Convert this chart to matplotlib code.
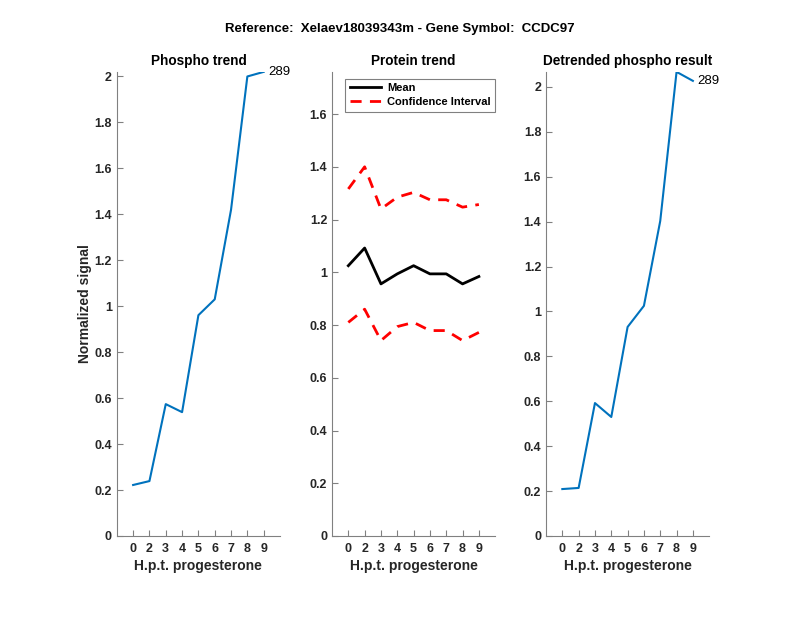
import matplotlib
matplotlib.use("Agg")
import matplotlib.pyplot as plt
from matplotlib.ticker import FuncFormatter

plt.rcParams['font.family'] = ['Liberation Sans', 'DejaVu Sans']

tick_labels = ['0', '2', '3', '4', '5', '6', '7', '8', '9']
phospho = [0.222, 0.239, 0.574, 0.539, 0.961, 1.03, 1.42, 2.0, 2.02]
protein_mean = [1.025, 1.092, 0.956, 0.994, 1.025, 0.994, 0.994, 0.956, 0.984]
protein_upper = [1.316, 1.40, 1.24, 1.285, 1.303, 1.275, 1.275, 1.247, 1.257]
protein_lower = [0.81, 0.86, 0.741, 0.794, 0.81, 0.779, 0.779, 0.741, 0.772]
detrended = [0.209, 0.214, 0.592, 0.530, 0.931, 1.025, 1.403, 2.067, 2.027]
peptide_label = '289'

xs = list(range(1, len(tick_labels) + 1))
blue = '#0072BD'
grey = '#808080'

fig = plt.figure(figsize=(8, 6.18), dpi=100)
fig.suptitle('Reference:  Xelaev18039343m - Gene Symbol:  CCDC97',
             fontsize=9.5, fontweight='bold', y=0.962)

lefts = [0.146, 0.415, 0.6825]
w, b, h = 0.204, 0.1327, 0.751
fmt = FuncFormatter(lambda v, p: '%g' % round(v, 2))


def style(ax, ymax, yticks):
    ax.set_xlim(0, 10)
    ax.set_ylim(0, ymax)
    ax.set_xticks(xs)
    ax.set_xticklabels(tick_labels)
    ax.set_yticks(yticks)
    ax.yaxis.set_major_formatter(fmt)
    for s in ['top', 'right']:
        ax.spines[s].set_visible(False)
    for s in ['left', 'bottom']:
        ax.spines[s].set_color(grey)
        ax.spines[s].set_linewidth(0.8)
    ax.tick_params(direction='in', length=4, color=grey, labelsize=9,
                   labelcolor='#262626')
    ax.tick_params(axis='x', pad=5)
    ax.tick_params(axis='y', pad=3.5)
    for lab in ax.get_xticklabels() + ax.get_yticklabels():
        lab.set_fontweight('bold')
    ax.set_xlabel('H.p.t. progesterone', fontsize=10, fontweight='bold',
                  color='#262626', labelpad=3)


ax1 = fig.add_axes([lefts[0], b, w, h])
ax1.plot(xs, phospho, color=blue, lw=1.5)
style(ax1, max(phospho), [i * 0.2 for i in range(11)])
ax1.set_title('Phospho trend', fontsize=9.8, fontweight='bold', pad=5)
ax1.set_ylabel('Normalized signal', fontsize=10, fontweight='bold', color='#262626')
ax1.yaxis.set_label_coords(-0.15, 0.5)
ax1.text(xs[-1] + 0.3, phospho[-1], peptide_label, fontsize=9.5, ha='left', va='center')

ax2 = fig.add_axes([lefts[1], b, w, h])
ax2.plot(xs, protein_mean, color='black', lw=2, label='Mean')
ax2.plot(xs, protein_upper, color='red', lw=2, ls=(0, (4, 3)), label='Confidence Interval')
ax2.plot(xs, protein_lower, color='red', lw=2, ls=(0, (4, 3)))
style(ax2, 1.76, [i * 0.2 for i in range(9)])
ax2.set_title('Protein trend', fontsize=9.8, fontweight='bold', pad=5)
leg = ax2.legend(loc='upper left', bbox_to_anchor=(0.08, 0.985), borderaxespad=0,
                 fancybox=False, framealpha=1, edgecolor=grey,
                 prop={'weight': 'bold', 'size': 8}, handlelength=2.8,
                 borderpad=0.4, labelspacing=0.35, handletextpad=0.6)
leg.get_frame().set_linewidth(0.8)

ax3 = fig.add_axes([lefts[2], b, w, h])
ax3.plot(xs, detrended, color=blue, lw=1.5)
style(ax3, max(detrended), [i * 0.2 for i in range(11)])
ax3.set_title('Detrended phospho result', fontsize=9.8, fontweight='bold', pad=5)
ax3.text(xs[-1] + 0.3, detrended[-1], peptide_label, fontsize=9.5, ha='left', va='center')

fig.savefig('out.png', dpi=100)
